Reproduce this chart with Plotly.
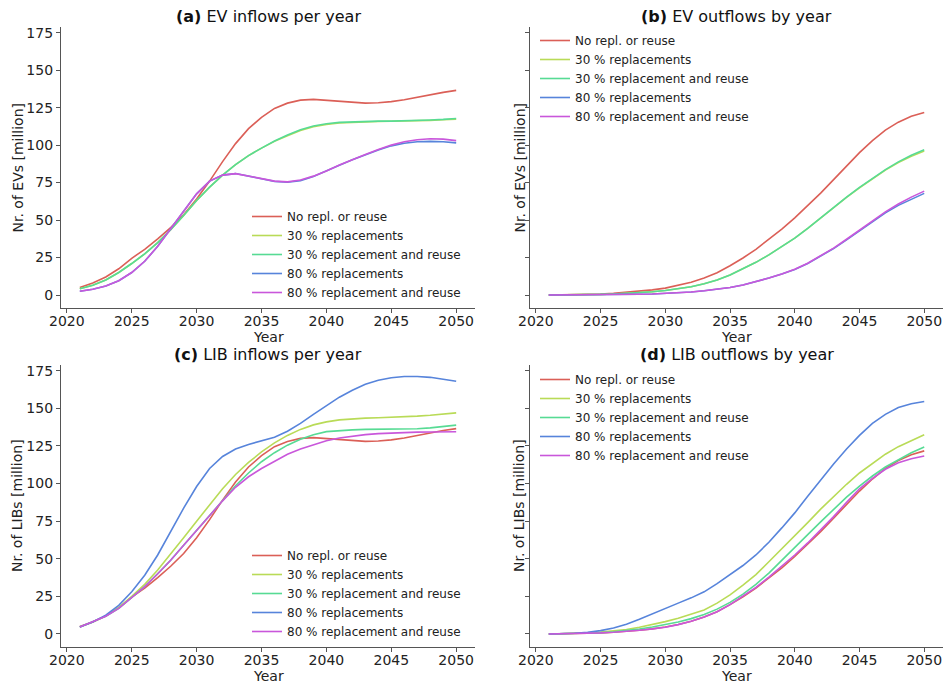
import plotly.graph_objects as go

years = list(range(2021, 2051))

scenarios = ["No repl. or reuse", "30 % replacements", "30 % replacement and reuse",
             "80 % replacements", "80 % replacement and reuse"]
colors = ["#db5f57", "#b9db57", "#57db94", "#5784db", "#c957db"]

# (a) EV inflows per year [million]
ev_in_none = [5, 8, 12, 17.5, 24.5, 30.5, 37.5, 45, 53.5, 64, 76, 89, 101, 111, 118.5,
              124.5, 128, 130, 130.5, 130, 129.3, 128.5, 128, 128.3, 129, 130.3, 132, 133.8, 135.2, 136.5]
ev_in_30 = [4.2, 6.5, 10, 15, 21, 27.5, 35, 43.5, 53, 63, 72, 80, 87, 93, 98,
            102.5, 106.3, 109.7, 112.2, 113.8, 114.8, 115.3, 115.6, 115.8, 115.9, 116, 116.2, 116.5, 116.9, 117.3]
ev_in_30r = [4.2, 6.5, 10, 15, 21, 27.5, 35, 43.5, 53, 63, 72, 80, 87, 93, 98,
             102.7, 106.7, 110.2, 112.7, 114.3, 115.2, 115.6, 115.9, 116, 116, 116.1, 116.4, 116.8, 117.2, 117.8]
ev_in_80 = [2.5, 3.8, 6, 9.5, 15, 22.5, 32.5, 44, 56, 67.5, 76, 80, 81, 79.3, 77.3,
            75.8, 75.2, 76.3, 79, 82.5, 86.5, 90.2, 93.6, 96.8, 99.5, 101.3, 102.2, 102.5, 102.2, 101.5]
ev_in_80r = [2.5, 3.8, 6, 9.5, 15, 22.5, 32.5, 44, 56, 67.5, 76, 80, 81, 79.3, 77.5,
             76, 75.5, 76.7, 79.3, 82.7, 86.7, 90.4, 93.8, 97, 100, 102.2, 103.6, 104.2, 104, 103]

# (b) EV outflows by year [million]
ev_out_none = [0, 0.1, 0.2, 0.4, 0.7, 1.1, 1.7, 2.5, 3.4, 4.6, 6.3, 8.5, 11.3, 14.8, 19.5,
               24.7, 30.5, 37, 44, 51.5, 59.5, 68, 77, 86, 95, 103, 110, 115.3, 119.2, 121.7]
ev_out_30 = [0, 0, 0.1, 0.2, 0.4, 0.7, 1.1, 1.6, 2.2, 3, 4, 5.5, 7.5, 10, 13.3,
             17.3, 21.8, 26.8, 32.2, 38, 44.5, 51.5, 58.5, 65.2, 71.5, 77.5, 83.3, 88.3, 92.5, 96]
ev_out_30r = [0, 0, 0.1, 0.2, 0.4, 0.7, 1.1, 1.6, 2.2, 3, 4, 5.5, 7.5, 10, 13.3,
              17.3, 21.8, 26.8, 32.2, 38, 44.5, 51.5, 58.5, 65.3, 71.8, 77.8, 83.7, 88.8, 93.2, 96.9]
ev_out_80 = [0, 0, 0, 0, 0.1, 0.2, 0.3, 0.5, 0.7, 1, 1.4, 2, 2.8, 3.8, 5,
             6.7, 8.8, 11.3, 14, 17, 21, 25.8, 31, 36.8, 42.8, 49, 54.8, 59.8, 64, 67.8]
ev_out_80r = [0, 0, 0, 0, 0.1, 0.2, 0.3, 0.5, 0.7, 1, 1.4, 2, 2.8, 3.8, 5,
              6.7, 8.8, 11.3, 14, 17.2, 21.2, 26, 31.3, 37.2, 43.3, 49.6, 55.5, 60.7, 65.3, 69.3]

# (c) LIB inflows per year [million]
lib_in_none = ev_in_none
lib_in_30 = [4.7, 8, 12, 17.5, 25, 33, 42.5, 53, 64, 75, 86, 96.5, 106, 114, 121,
             127, 132, 136, 139, 141, 142.3, 143, 143.5, 143.7, 144, 144.3, 144.8, 145.4, 146.1, 147]
lib_in_30r = [4.7, 8, 11.8, 17, 24, 31.5, 40, 49, 59, 69, 79, 89, 98.5, 107, 114.5,
              120.5, 125.5, 129.5, 132.5, 134.5, 135.3, 135.7, 136, 136, 136, 136.1, 136.4, 137, 137.8, 138.8]
lib_in_80 = [4.7, 8, 12.5, 19, 28, 39, 52.5, 68, 83.6, 98, 110, 118, 123, 126, 128.5,
             130.8, 134.8, 140, 146, 152, 157.4, 162, 166, 168.6, 170.3, 171.2, 171.2, 170.6, 169.4, 168]
lib_in_80r = [4.7, 8, 11.8, 17, 24, 31.5, 40, 49, 59, 69, 79, 88.5, 97.5, 104.5, 110,
              115, 119.5, 123, 126, 128.5, 130.3, 131.6, 132.5, 133.2, 133.7, 134, 134.2, 134.3, 134.4, 134.4]

# (d) LIB outflows by year [million]
lib_out_none = ev_out_none
lib_out_30 = [0, 0.1, 0.3, 0.6, 1.2, 2, 3, 4.5, 6.2, 8.2, 10.5, 13, 16, 20.5, 26,
              32.5, 39.5, 48, 56.5, 65, 74, 83, 91.5, 99.5, 107, 113.5, 119.5, 124.5, 128.5, 132.5]
lib_out_30r = [0, 0.1, 0.2, 0.4, 0.8, 1.4, 2.2, 3.3, 4.6, 6.2, 8, 10.2, 13, 16.5, 21,
               26.5, 33, 40.5, 48.8, 57.3, 66, 74.5, 83, 91, 98.3, 105, 111, 116, 120.5, 124.3]
lib_out_80 = [0, 0.2, 0.5, 1.1, 2.2, 4, 6.5, 9.8, 13.5, 17, 20.5, 24, 28, 33.5, 39.5,
              45.5, 52.5, 61, 70.5, 80.5, 91.5, 102.5, 113, 123, 132, 140, 146, 150.5, 153, 154.5]
lib_out_80r = [0, 0.1, 0.2, 0.4, 0.7, 1.1, 1.7, 2.5, 3.4, 4.5, 6.2, 8.4, 11.2, 14.8, 19.5,
               25, 31, 37.8, 45, 52.5, 60.5, 69, 78, 87.5, 96.5, 103.5, 109.5, 113.8, 116.5, 118.3]

panels = [
    ([ev_in_none, ev_in_30, ev_in_30r, ev_in_80, ev_in_80r], "legend"),
    ([ev_out_none, ev_out_30, ev_out_30r, ev_out_80, ev_out_80r], "legend2"),
    ([lib_in_none, lib_in_30, lib_in_30r, lib_in_80, lib_in_80r], "legend3"),
    ([lib_out_none, lib_out_30, lib_out_30r, lib_out_80, lib_out_80r], "legend4"),
]
titles = ["<b>(a)</b> EV inflows per year", "<b>(b)</b> EV outflows by year",
          "<b>(c)</b> LIB inflows per year", "<b>(d)</b> LIB outflows by year"]
ylabels = ["Nr. of EVs [million]", "Nr. of EVs [million]",
           "Nr. of LIBs [million]", "Nr. of LIBs [million]"]
y_ticks = [0, 25, 50, 75, 100, 125, 150, 175]
x_ticks = [2020, 2025, 2030, 2035, 2040, 2045, 2050]

W, H = 946, 683
FONT = "DejaVu Sans"
# pixel boxes: (left, right, top, bottom)
boxes = [(61, 475, 27, 308), (530, 943, 27, 308), (61, 475, 365, 647), (530, 943, 365, 647)]

fig = go.Figure()
for i, (series, leg) in enumerate(panels):
    xa = "x" if i == 0 else f"x{i+1}"
    ya = "y" if i == 0 else f"y{i+1}"
    for name, vals, col in zip(scenarios, series, colors):
        fig.add_trace(go.Scatter(x=years, y=vals, mode="lines", name=name,
                                 line=dict(color=col, width=1.6),
                                 xaxis=xa, yaxis=ya, legend=leg, hoverinfo="skip"))

layout = dict(width=W, height=H, margin=dict(l=0, r=0, t=0, b=0, autoexpand=False),
              paper_bgcolor="white", plot_bgcolor="white",
              font=dict(family=FONT, size=14, color="#222222"))
annotations = []
for i, (l, r, t, b) in enumerate(boxes):
    sx = "" if i == 0 else str(i + 1)
    layout[f"xaxis{sx}"] = dict(domain=[l / W, r / W], range=[2019.55, 2051.45], automargin=False,
                                 anchor=f"y{sx}", tickvals=x_ticks, ticks="outside", ticklen=4,
                                 ticklabelstandoff=-4,
                                 tickcolor="#555555", showline=True, linecolor="#555555", linewidth=1.2,
                                 showgrid=False, zeroline=False, tickfont=dict(size=14, family=FONT, color="#222222"))
    layout[f"yaxis{sx}"] = dict(domain=[1 - b / H, 1 - t / H], range=[-8.67, 178.8], automargin=False,
                                 anchor=f"x{sx}", tickvals=y_ticks, ticks="outside", ticklen=4,
                                 tickcolor="#555555", showline=True, linecolor="#555555", linewidth=1.2,
                                 showgrid=False, zeroline=False, showticklabels=(i % 2 == 0),
                                 tickfont=dict(size=14, family=FONT, color="#222222"))
    cx = (l + r) / 2
    annotations.append(dict(text=titles[i], x=cx / W, y=1 - (t - 11) / H, xref="paper", yref="paper",
                            xanchor="center", yanchor="middle", showarrow=False,
                            font=dict(size=16, family=FONT, color="#111111")))
    annotations.append(dict(text="Year", x=cx / W, y=1 - (b + 28.5) / H, xref="paper", yref="paper",
                            xanchor="center", yanchor="middle", showarrow=False,
                            font=dict(size=14, family=FONT, color="#222222")))
    ylx = 17 if i % 2 == 0 else 519
    annotations.append(dict(text=ylabels[i], x=ylx / W, y=1 - (t + b) / 2 / H, xref="paper", yref="paper",
                            xanchor="center", yanchor="middle", showarrow=False, textangle=-90,
                            font=dict(size=14, family=FONT, color="#222222")))
layout["annotations"] = annotations

leg_pos = {"legend": (247, 202), "legend2": (535, 26), "legend3": (247, 541), "legend4": (535, 365)}
for key, (lx, ty) in leg_pos.items():
    layout[key] = dict(x=lx / W, y=1 - ty / H, xanchor="left", yanchor="top",
                       bgcolor="rgba(255,255,255,0)", borderwidth=0,
                       font=dict(size=12, family=FONT, color="#222222"))
fig.update_layout(**layout)

post = ("document.documentElement.style.margin='0';document.body.style.margin='0';"
        "document.body.style.padding='0';document.body.style.overflow='hidden';"
        "var d=document.getElementById('{plot_id}');d.style.position='absolute';"
        "d.style.left='0px';d.style.top='0px';")
fig.write_html("out.html", post_script=post, config={"displayModeBar": False})
